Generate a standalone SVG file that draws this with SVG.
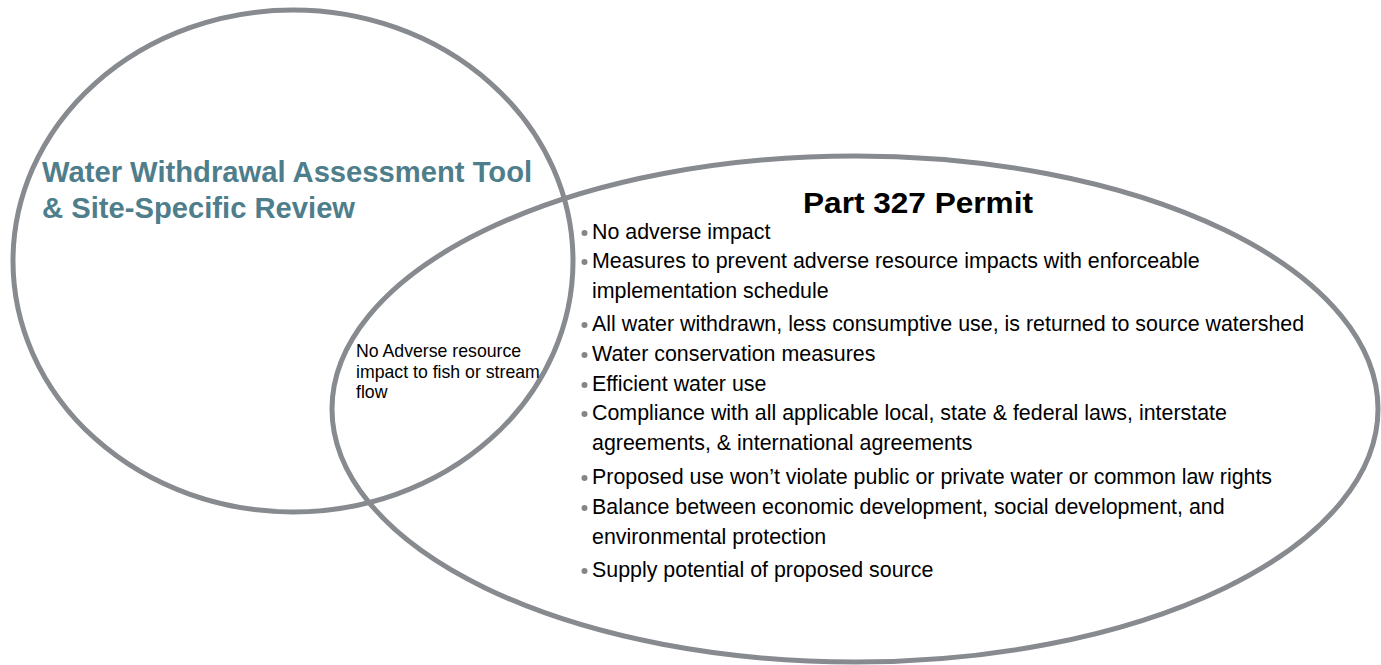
<svg xmlns="http://www.w3.org/2000/svg" width="1381" height="665" viewBox="0 0 1381 665">
<style>
.ring{fill:none;stroke:#878a8e;stroke-width:5}
.title{font-family:"Liberation Sans",Arial,sans-serif;font-weight:bold;font-size:29.2px;fill:#4e7e8b}
.head{font-family:"Liberation Sans",Arial,sans-serif;font-weight:bold;font-size:29px;fill:#000}
.item{font-family:"Liberation Sans",Arial,sans-serif;font-size:21.4px;fill:#000}
.small{font-family:"Liberation Sans",Arial,sans-serif;font-size:17.7px;fill:#000}
.dot{fill:#858585}
</style>
<rect width="1381" height="665" fill="#fff"/>
<g id="wwat-circle">
<ellipse class="ring" cx="293" cy="261" rx="280" ry="251"/>
<text class="title" x="42" y="182">Water Withdrawal Assessment Tool</text>
<text class="title" x="42" y="218">&amp; Site-Specific Review</text>
</g>
<g id="permit-circle">
<ellipse class="ring" cx="855" cy="409" rx="523" ry="253"/>
<text class="head" x="803" y="213" textLength="230" lengthAdjust="spacingAndGlyphs">Part 327 Permit</text>
<g id="permit-list">
<circle class="dot" cx="584.5" cy="233" r="3"/>
<text class="item" x="592" y="239">No adverse impact</text>
<circle class="dot" cx="584.5" cy="262" r="3"/>
<text class="item" x="592" y="268">Measures to prevent adverse resource impacts with enforceable</text>
<text class="item" x="592" y="298">implementation schedule</text>
<circle class="dot" cx="584.5" cy="325" r="3"/>
<text class="item" x="592" y="331">All water withdrawn, less consumptive use, is returned to source watershed</text>
<circle class="dot" cx="584.5" cy="355" r="3"/>
<text class="item" x="592" y="361">Water conservation measures</text>
<circle class="dot" cx="584.5" cy="385" r="3"/>
<text class="item" x="592" y="391">Efficient water use</text>
<circle class="dot" cx="584.5" cy="414" r="3"/>
<text class="item" x="592" y="420">Compliance with all applicable local, state &amp; federal laws, interstate</text>
<text class="item" x="592" y="450">agreements, &amp; international agreements</text>
<circle class="dot" cx="584.5" cy="478" r="3"/>
<text class="item" x="592" y="484">Proposed use won’t violate public or private water or common law rights</text>
<circle class="dot" cx="584.5" cy="508" r="3"/>
<text class="item" x="592" y="514">Balance between economic development, social development, and</text>
<text class="item" x="592" y="544">environmental protection</text>
<circle class="dot" cx="584.5" cy="571" r="3"/>
<text class="item" x="592" y="577">Supply potential of proposed source</text>
</g>
</g>
<g id="overlap">
<text class="small" x="356" y="357">No Adverse resource</text>
<text class="small" x="356" y="378">impact to fish or stream</text>
<text class="small" x="356" y="398">flow</text>
</g>
<g id="connectors"></g>
</svg>
